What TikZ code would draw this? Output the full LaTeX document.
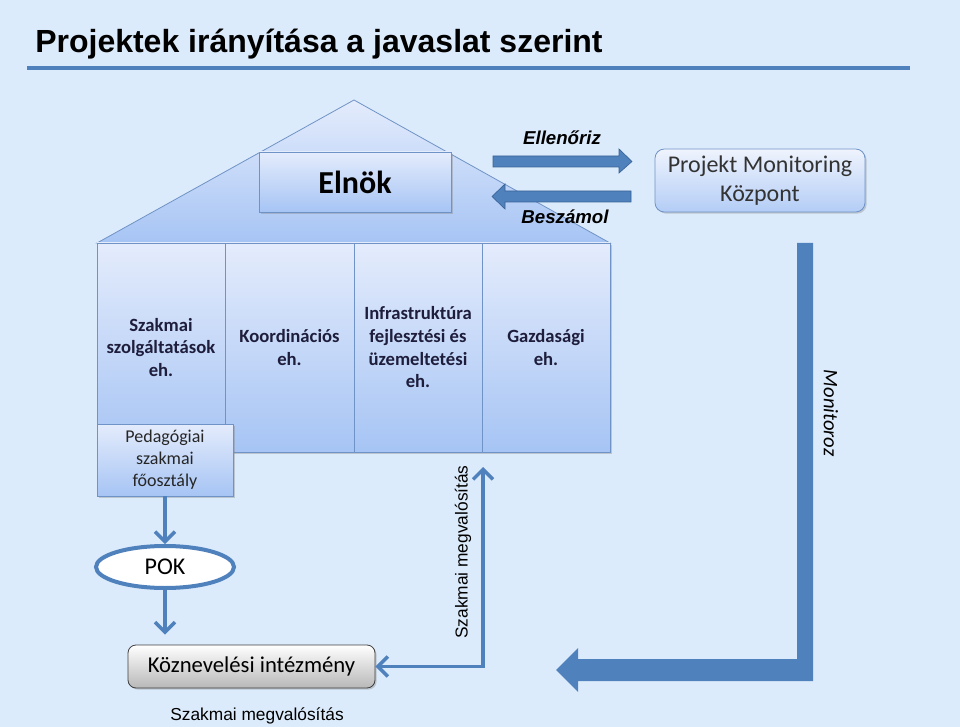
\documentclass[tikz,border=0pt]{standalone}
\usepackage{fontspec}
\setmainfont{Carlito}
\newfontfamily\arial{Liberation Sans}
\usetikzlibrary{shadows,arrows.meta,shapes.geometric}
\definecolor{bg}{HTML}{DCEBFB}
\definecolor{accent}{HTML}{4F81BD}
\definecolor{accentdark}{HTML}{3A6397}
\definecolor{housetop}{HTML}{E4ECFC}
\definecolor{housebot}{HTML}{A6C4F4}
\definecolor{houseline}{HTML}{6F93C6}
\definecolor{coltext}{HTML}{1E1E3C}
\tikzset{
  colbox/.style={draw=houseline, line width=0.6pt, top color=housetop, bottom color=housebot,
    minimum height=156.75pt, align=center, font=\fontsize{14}{17}\selectfont\bfseries,
    text=coltext, inner sep=2pt,
    drop shadow={opacity=0.35, shadow xshift=1.2pt, shadow yshift=-1.2pt}},
  lightbox/.style={draw=houseline, line width=0.6pt, top color=housetop, bottom color=housebot,
    align=center, inner sep=2pt,
    drop shadow={opacity=0.35, shadow xshift=1.2pt, shadow yshift=-1.2pt}},
  thinarrow/.style={draw=accent, line width=2.6pt,
    -{Straight Barb[length=7.5pt, width=15pt, line width=2.6pt]}},
  blockarrow/.style={fill=accent, draw=accentdark, line width=0.5pt},
  armlabel/.style={font=\arial\fontsize{14}{16}\selectfont\bfseries\itshape, text=black},
  smlabel/.style={font=\arial\fontsize{13}{15}\selectfont, text=black},
}
\begin{document}
\begin{tikzpicture}[x=0.75pt, y=-0.75pt]
\useasboundingbox (0,0) rectangle (960,727);
\fill[bg] (0,0) rectangle (960,727);

% title
\node[anchor=base west, inner sep=0pt, font=\arial\fontsize{24}{27}\selectfont\bfseries] (title) at (35,53) {Projektek irányítása a javaslat szerint};
\draw[accent, line width=2.5pt] (27,68) -- (910,68);

% roof
\draw[houseline, line width=0.6pt, top color=housetop, bottom color=housebot] (97,243) -- (354,100) -- (610,243) -- cycle;

% columns
\node[colbox, minimum width=96pt] (c1) at (161,347.5) {Szakmai\\szolgáltatások\\eh.};
\node[colbox, minimum width=96.75pt] (c2) at (289.5,347.5) {Koordinációs\\eh.};
\node[colbox, minimum width=96pt] (c3) at (418,347.5) {Infrastruktúra\\fejlesztési és\\üzemeltetési\\eh.};
\node[colbox, minimum width=96pt] (c4) at (546,347.5) {Gazdasági\\eh.};

% Elnok
\node[lightbox, minimum width=144pt, minimum height=45pt, font=\fontsize{24}{28}\selectfont\bfseries, text=black] (elnok) at (355,182) {Elnök};

% Projekt Monitoring Kozpont
\node[lightbox, rounded corners=7pt, minimum width=157.5pt, minimum height=47.25pt,
  top color=white!40!housetop, bottom color=housebot!85!white,
  font=\fontsize{18}{21.5}\selectfont, text=black!80] (pmk) at (760,180.5) {Projekt Monitoring\\Központ};

% block arrows Ellenoriz / Beszamol
\draw[blockarrow] (493,156) -- (619,156) -- (619,149) -- (632,161.5) -- (619,173) -- (619,167) -- (493,167) -- cycle;
\draw[blockarrow] (631,191) -- (505,191) -- (505,184) -- (492,196.5) -- (505,209) -- (505,202) -- (631,202) -- cycle;
\node[armlabel] (ell) at (562,138) {Ellenőriz};
\node[armlabel] (besz) at (565,217) {Beszámol};

% Monitoroz L arrow
\fill[accent] (797,243) -- (813,243) -- (813,681) -- (578,681) -- (578,692) -- (556,670) -- (578,648) -- (578,659) -- (797,659) -- cycle;
\node[rotate=-90, font=\fontsize{15.5}{18}\selectfont\itshape, text=black] (mon) at (831,413) {Monitoroz};

% Pedagogiai
\node[lightbox, minimum width=102pt, minimum height=54pt, font=\fontsize{13.5}{16.5}\selectfont, text=black!85] (ped) at (165,460) {Pedagógiai\\szakmai\\főosztály};

% POK
\node[ellipse, draw=accent, line width=3pt, fill=white, minimum width=103.5pt, minimum height=31.5pt,
  inner sep=0pt, font=\fontsize{18}{20}\selectfont, text=black] (pok) at (165,567) {POK};

% Koznevelesi intezmeny
\node[draw=black!75, line width=0.6pt, rounded corners=6pt, top color=white, bottom color=black!28,
  minimum width=185.25pt, minimum height=32.25pt, font=\fontsize{17}{20}\selectfont, text=black,
  drop shadow={opacity=0.35, shadow xshift=1.2pt, shadow yshift=-1.2pt}] (koz) at (251.5,666.5) {Köznevelési intézmény};

\draw[thinarrow] (ped.south) -- (pok.north);
\draw[thinarrow] (pok.south) -- ([yshift=7.5pt]pok.south |- koz.north);

\coordinate (smtop) at (483,467);
\draw[draw=accent, line width=2.6pt,
  {Straight Barb[length=7.5pt, width=15pt, line width=2.6pt]}-{Straight Barb[length=7.5pt, width=15pt, line width=2.6pt]}]
  (smtop) |- (koz.east);

\node[smlabel, rotate=90] (smv) at (463,552) {Szakmai megvalósítás};
\node[smlabel] (smb) at (257,716) {Szakmai megvalósítás};
\end{tikzpicture}
\end{document}
